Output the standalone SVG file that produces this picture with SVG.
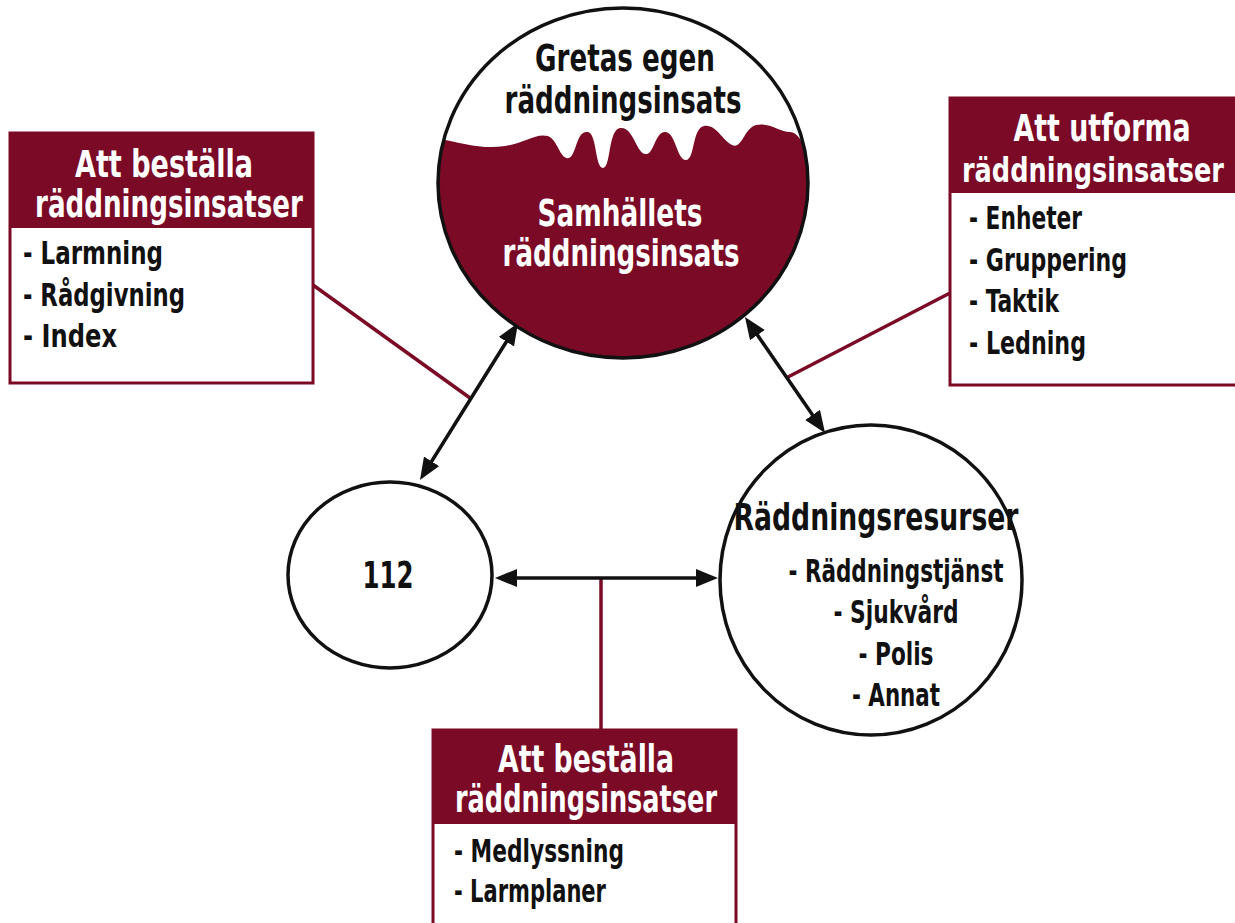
<svg xmlns="http://www.w3.org/2000/svg" width="1235" height="923" viewBox="0 0 1235 923">
  <style>
    .t { font-family: "Liberation Sans Narrow", "DejaVu Sans Condensed", "Liberation Sans", sans-serif; font-weight: bold; }
    .head { fill: #ffffff; font-size: 37px; text-anchor: middle; }
    .item { fill: #111111; font-size: 32px; }
    .big { fill: #111111; font-size: 38px; text-anchor: middle; }
    .box { fill: #ffffff; stroke: #7a0a26; stroke-width: 3; }
    .hdr { fill: #7a0a26; }
    .ring { fill: #ffffff; stroke: #111111; stroke-width: 3.5; }
    .link { stroke: #7a0a26; stroke-width: 3.5; fill: none; }
    .arrow { stroke: #111111; stroke-width: 3.5; fill: none; marker-start: url(#head); marker-end: url(#head); }
  </style>
  <defs>
    <marker id="head" viewBox="0 0 22 18" refX="14" refY="9" markerWidth="22" markerHeight="18" markerUnits="userSpaceOnUse" orient="auto-start-reverse">
      <path d="M0,0 L22,9 L0,18 Z" fill="#111111"/>
    </marker>
    <clipPath id="topClip">
      <ellipse cx="623" cy="183" rx="185" ry="175"/>
    </clipPath>
  </defs>

  <rect width="1235" height="923" fill="#ffffff"/>

  <!-- connectors -->
  <g id="connectors">
    <line class="link" x1="313" y1="285" x2="470" y2="398"/>
    <line class="link" x1="788" y1="377" x2="950" y2="293"/>
    <line class="link" x1="601" y1="578" x2="601" y2="730"/>
    <line class="arrow" x1="513.8" y1="329.8" x2="424.2" y2="473.2"/>
    <line class="arrow" x1="749.5" y1="323.6" x2="820.5" y2="426.4"/>
    <line class="arrow" x1="503" y1="578" x2="710" y2="578"/>
  </g>

  <!-- top circle: own effort above, society's effort below the wave -->
  <g id="node-insats">
    <ellipse cx="623" cy="183" rx="185" ry="175" fill="#ffffff"/>
    <path clip-path="url(#topClip)" fill="#7a0a26" d="M 430,137 C 460,142 480,150 505,146 C 525,143 535,133 548,136 C 558,140 560,160 569,158 C 577,154 576,130 588,132 C 597,134 595,168 603,168 C 611,168 608,130 620,128 C 633,126 636,152 645,154 C 654,156 655,130 666,132 C 676,134 677,160 686,160 C 695,160 692,128 704,126 C 716,124 722,140 732,145 C 742,150 744,128 756,125 C 769,122 780,132 790,132 C 800,132 805,150 815,165 L 815,400 L 430,400 Z"/>
    <ellipse cx="623" cy="183" rx="185" ry="175" fill="none" stroke="#111111" stroke-width="3.5"/>
    <text class="t big" x="625" y="71" textLength="180" lengthAdjust="spacingAndGlyphs">Gretas egen</text>
    <text class="t big" x="623" y="113" textLength="237" lengthAdjust="spacingAndGlyphs">räddningsinsats</text>
    <text class="t big" x="620" y="226" style="fill:#ffffff" textLength="165" lengthAdjust="spacingAndGlyphs">Samhällets</text>
    <text class="t big" x="621" y="266" style="fill:#ffffff" textLength="237" lengthAdjust="spacingAndGlyphs">räddningsinsats</text>
  </g>

  <!-- 112 -->
  <g id="node-112">
    <ellipse class="ring" cx="390" cy="575" rx="102" ry="93"/>
    <text class="t big" x="388" y="588" textLength="51" lengthAdjust="spacingAndGlyphs">112</text>
  </g>

  <!-- rescue resources -->
  <g id="node-resurser">
    <ellipse class="ring" cx="871" cy="580" rx="151" ry="155"/>
    <text class="t big" x="876" y="530" textLength="285" lengthAdjust="spacingAndGlyphs">Räddningsresurser</text>
    <text class="t item" x="896" y="582" text-anchor="middle" textLength="215" lengthAdjust="spacingAndGlyphs">- Räddningstjänst</text>
    <text class="t item" x="896" y="623" text-anchor="middle" textLength="125" lengthAdjust="spacingAndGlyphs">- Sjukvård</text>
    <text class="t item" x="896" y="665" text-anchor="middle" textLength="75" lengthAdjust="spacingAndGlyphs">- Polis</text>
    <text class="t item" x="896" y="706" text-anchor="middle" textLength="88" lengthAdjust="spacingAndGlyphs">- Annat</text>
  </g>

  <!-- ordering box, left -->
  <g id="box-bestalla-vanster">
    <rect class="box" x="10" y="133" width="303" height="250"/>
    <rect class="hdr" x="10" y="133" width="303" height="95"/>
    <text class="t head" x="164" y="177" textLength="178" lengthAdjust="spacingAndGlyphs">Att beställa</text>
    <text class="t head" x="169" y="217" textLength="268" lengthAdjust="spacingAndGlyphs">räddningsinsatser</text>
    <text class="t item" x="23" y="264" textLength="140" lengthAdjust="spacingAndGlyphs">- Larmning</text>
    <text class="t item" x="23" y="306" textLength="162" lengthAdjust="spacingAndGlyphs">- Rådgivning</text>
    <text class="t item" x="23" y="347" textLength="94" lengthAdjust="spacingAndGlyphs">- Index</text>
  </g>

  <!-- design box, right (border lies on the right edge) -->
  <g id="box-utforma">
    <rect class="box" x="950" y="98" width="287" height="287"/>
    <rect class="hdr" x="950" y="98" width="287" height="95"/>
    <text class="t head" x="1102" y="141" textLength="177" lengthAdjust="spacingAndGlyphs">Att utforma</text>
    <text class="t head" x="1093" y="182" style="font-size:33px" textLength="262" lengthAdjust="spacingAndGlyphs">räddningsinsatser</text>
    <text class="t item" x="969" y="229" textLength="113" lengthAdjust="spacingAndGlyphs">- Enheter</text>
    <text class="t item" x="969" y="271" textLength="158" lengthAdjust="spacingAndGlyphs">- Gruppering</text>
    <text class="t item" x="969" y="312" textLength="90" lengthAdjust="spacingAndGlyphs">- Taktik</text>
    <text class="t item" x="969" y="354" textLength="117" lengthAdjust="spacingAndGlyphs">- Ledning</text>
  </g>

  <!-- ordering box, bottom (border lies on the bottom edge) -->
  <g id="box-bestalla-nere">
    <rect class="box" x="433" y="730" width="303" height="195"/>
    <rect class="hdr" x="433" y="730" width="303" height="94"/>
    <text class="t head" x="586" y="772" textLength="176" lengthAdjust="spacingAndGlyphs">Att beställa</text>
    <text class="t head" x="586" y="812" textLength="262" lengthAdjust="spacingAndGlyphs">räddningsinsatser</text>
    <text class="t item" x="454" y="862" textLength="170" lengthAdjust="spacingAndGlyphs">- Medlyssning</text>
    <text class="t item" x="454" y="902" textLength="152" lengthAdjust="spacingAndGlyphs">- Larmplaner</text>
  </g>
</svg>
